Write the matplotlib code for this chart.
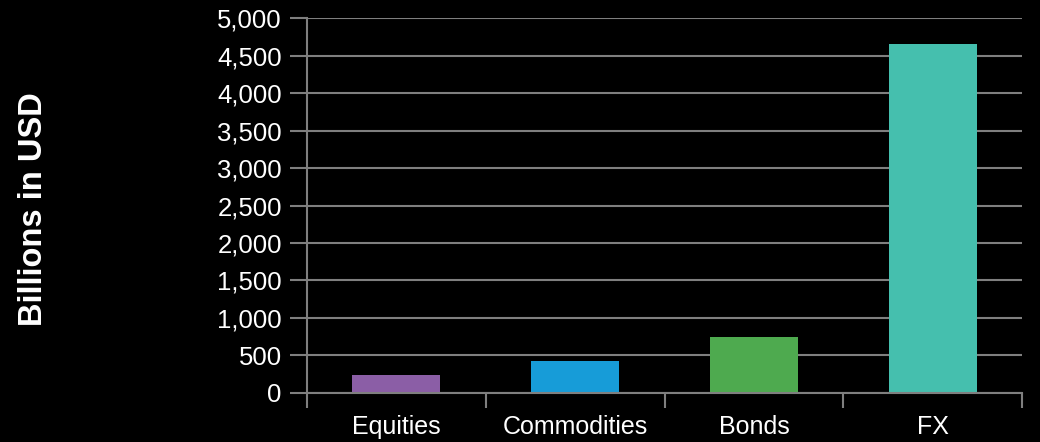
import matplotlib
matplotlib.use("Agg")
import matplotlib.pyplot as plt
from matplotlib.ticker import FuncFormatter, FixedLocator

# Average daily trading volume by asset class
categories = ["Equities", "Commodities", "Bonds", "FX"]
volumes = [245, 430, 740, 4650]
bar_colors = ["#8b5ea6", "#179cd8", "#4eaa4f", "#45bfae"]
y_ticks = [0, 500, 1000, 1500, 2000, 2500, 3000, 3500, 4000, 4500, 5000]

plt.rcParams["font.family"] = ["Liberation Sans", "DejaVu Sans"]

fig = plt.figure(figsize=(10.4, 4.42), dpi=100, facecolor="black")
ax = fig.add_axes([0.295, 0.111, 0.688, 0.848], facecolor="black")

grid_color = "#7f7f7f"
x = list(range(len(categories)))
ax.bar(x, volumes, width=0.49, color=bar_colors, zorder=3)

ax.set_xlim(-0.5, len(categories) - 0.5)
ax.set_ylim(0, 5000)

ax.yaxis.set_major_locator(FixedLocator(y_ticks))
ax.yaxis.set_major_formatter(FuncFormatter(lambda v, p: f"{int(v):,}"))
ax.grid(axis="y", color=grid_color, linewidth=1.5, zorder=0)

# category boundaries get tick marks, labels sit at the centres
ax.set_xticks([i - 0.5 for i in range(len(categories) + 1)])
ax.set_xticklabels([])
ax.set_xticks(x, minor=True)
ax.set_xticklabels(categories, minor=True)
ax.tick_params(axis="x", which="major", length=11, width=1.5, color=grid_color, direction="out")
ax.tick_params(axis="x", which="minor", length=0, pad=16, labelsize=18, labelcolor="white")
ax.tick_params(axis="y", length=12, width=1.5, color=grid_color, pad=6, labelsize=18.5, labelcolor="white")

for side in ("top", "right"):
    ax.spines[side].set_visible(False)
for side in ("left", "bottom"):
    ax.spines[side].set_color(grid_color)
    ax.spines[side].set_linewidth(1.5)
    ax.spines[side].set_zorder(4)

fig.text(0.032, 0.527, "Billions in USD", rotation=90, ha="center", va="center",
         color="white", fontsize=23.5, fontweight="bold")

fig.savefig("out.png", dpi=100, facecolor="black")
